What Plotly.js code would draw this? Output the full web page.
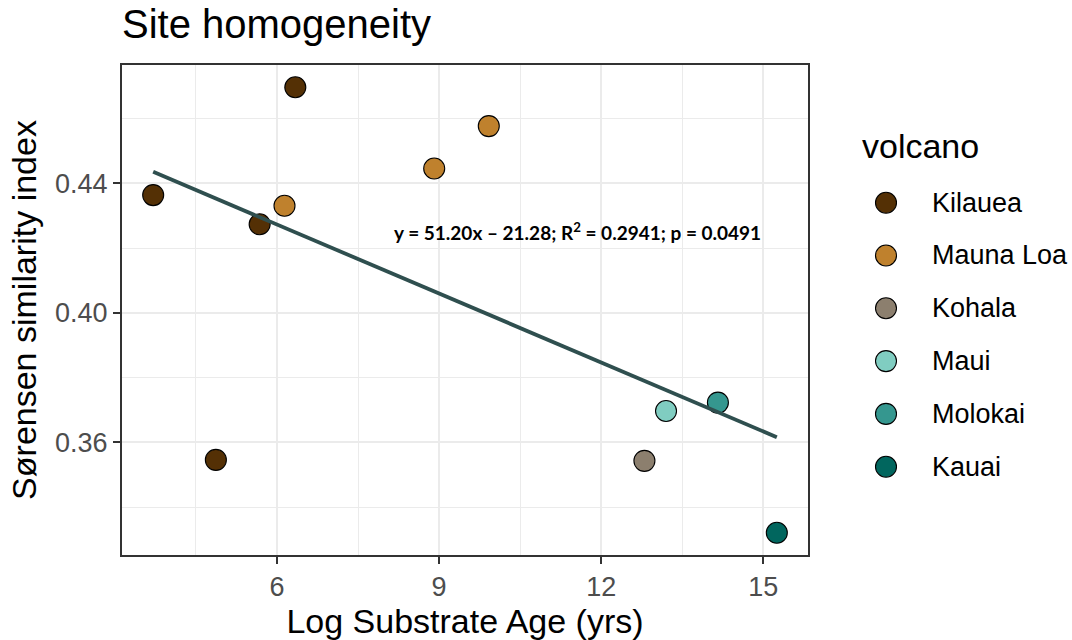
<!DOCTYPE html>
<html>
<head>
<meta charset="utf-8">
<script src="https://cdn.plot.ly/plotly-3.0.1.min.js"></script>
<style>html,body{margin:0;padding:0;background:#fff;}#chart{width:1072px;height:640px;}</style>
</head>
<body>
<div id="chart"></div>
<script>
// ---- data ----
const volcanoLevels = ["Kilauea", "Mauna Loa", "Kohala", "Maui", "Molokai", "Kauai"];
const volcanoColors = ["#543005", "#BF812D", "#8C7F6E", "#80CDC1", "#35978F", "#01665E"];
const siteVolcano = ["Kilauea", "Kilauea", "Kilauea", "Kilauea", "Mauna Loa", "Mauna Loa", "Mauna Loa", "Kohala", "Maui", "Molokai", "Kauai"];
const logAge =      [3.71, 4.87, 5.68, 6.34, 6.14, 8.91, 9.92, 12.80, 13.20, 14.16, 15.25];
const sorensen =    [0.4364, 0.3546, 0.4274, 0.4697, 0.4331, 0.4446, 0.4577, 0.3543, 0.3697, 0.3723, 0.3321];
const xTickVals = [6, 9, 12, 15];
const yTickVals = [0.36, 0.40, 0.44];
const fitLabel = "y = 51.20x \u2013 21.28; R<sup>2</sup> = 0.2941; p = 0.0491";

// ---- layout constants ----
const W = 1072, H = 640;
const panel = {left: 122, right: 808, top: 65, bottom: 555};
const FONT = "Liberation Sans, Arial, sans-serif";

// least-squares fit (as geom_smooth(method = "lm"))
const n = logAge.length;
const mx = logAge.reduce((a, b) => a + b, 0) / n;
const my = sorensen.reduce((a, b) => a + b, 0) / n;
let sxy = 0, sxx = 0;
for (let i = 0; i < n; i++) { sxy += (logAge[i] - mx) * (sorensen[i] - my); sxx += (logAge[i] - mx) ** 2; }
const slope = sxy / sxx, intercept = my - slope * mx;
const xMin = Math.min(...logAge), xMax = Math.max(...logAge);
const yMin = Math.min(...sorensen), yMax = Math.max(...sorensen);
const xPad = (xMax - xMin) * 0.05, yPad = (yMax - yMin) * 0.05;

const traces = [];
volcanoLevels.forEach((v, k) => {
  const xs = [], ys = [];
  siteVolcano.forEach((s, i) => { if (s === v) { xs.push(logAge[i]); ys.push(sorensen[i]); } });
  traces.push({
    type: "scatter", mode: "markers", x: xs, y: ys, name: v, showlegend: false,
    marker: {size: 21, color: volcanoColors[k], line: {color: "#000000", width: 1.1}},
    hoverinfo: "skip"
  });
});
traces.push({
  type: "scatter", mode: "lines", x: [xMin, xMax],
  y: [intercept + slope * xMin, intercept + slope * xMax],
  line: {color: "#2F4F4F", width: 3.8}, showlegend: false, hoverinfo: "skip"
});

// custom legend drawn on a helper axis pair in pixel units
const legX0 = 0.76 * W;
const legMarkerX = 886, legTop = 202.7, legStep = 52.8;
traces.push({
  type: "scatter", mode: "markers", xaxis: "x2", yaxis: "y2",
  x: volcanoLevels.map(() => legMarkerX),
  y: volcanoLevels.map((v, k) => legTop + k * legStep),
  marker: {size: 21, color: volcanoColors, line: {color: "#000000", width: 1.1}},
  showlegend: false, hoverinfo: "skip"
});

const annotations = [
  {xref: "x", yref: "y", x: 11.553, y: 0.4253, text: "<b>" + fitLabel + "</b>", showarrow: false,
   xanchor: "center", yanchor: "middle", font: {family: "Lato, sans-serif", size: 19, color: "#000000"}},
  {xref: "paper", yref: "paper", x: 860 / W, y: 1 - 146 / H, text: "volcano", showarrow: false,
   xanchor: "left", yanchor: "middle", font: {family: FONT, size: 34, color: "#000000"}}
];
volcanoLevels.forEach((v, k) => {
  annotations.push({xref: "paper", yref: "paper", x: 930 / W, y: 1 - (legTop + k * legStep) / H,
    text: v, showarrow: false, xanchor: "left", yanchor: "middle",
    font: {family: FONT, size: 27, color: "#000000"}});
});

const axisCommon = {
  showline: true, mirror: true, linecolor: "#333333", linewidth: 2,
  ticks: "outside", ticklen: 7, tickwidth: 2, tickcolor: "#333333",
  showgrid: true, gridcolor: "#EBEBEB", gridwidth: 2, zeroline: false,
  tickfont: {family: FONT, size: 27, color: "#4D4D4D"}
};

const layout = {
  width: W, height: H,
  margin: {l: 0, r: 0, t: 0, b: 0},
  paper_bgcolor: "#FFFFFF", plot_bgcolor: "#FFFFFF",
  font: {family: FONT},
  title: {text: "Site homogeneity", font: {family: FONT, size: 40, color: "#000000"},
          x: panel.left / W, xanchor: "left", xref: "container", y: 1 - 24.3 / H, yref: "container", yanchor: "middle"},
  xaxis: Object.assign({}, axisCommon, {
    domain: [panel.left / W, panel.right / W],
    range: [xMin - xPad, xMax + xPad], autorange: false,
    tickvals: xTickVals, ticktext: xTickVals.map(String),
    minor: {dtick: 1.5, tick0: 0, showgrid: true, gridcolor: "#EBEBEB", gridwidth: 1, ticks: ""},
    title: {text: "Log Substrate Age (yrs)", font: {family: FONT, size: 34, color: "#000000"}, standoff: 6}
  }),
  yaxis: Object.assign({}, axisCommon, {
    domain: [1 - panel.bottom / H, 1 - panel.top / H],
    range: [yMin - yPad, yMax + yPad], autorange: false,
    tickvals: yTickVals, ticktext: yTickVals.map(v => v.toFixed(2)),
    minor: {dtick: 0.02, tick0: 0, showgrid: true, gridcolor: "#EBEBEB", gridwidth: 1, ticks: ""},
    title: {text: "Sørensen similarity index", font: {family: FONT, size: 34, color: "#000000"}, standoff: 8}
  }),
  xaxis2: {domain: [0.76, 1], range: [legX0, W], autorange: false, visible: false, fixedrange: true},
  yaxis2: {domain: [0, 1], range: [H, 0], autorange: false, visible: false, fixedrange: true, anchor: "x2"},
  annotations: annotations,
  showlegend: false
};
layout.xaxis2.anchor = "y2";

Plotly.newPlot("chart", traces, layout, {displayModeBar: false, staticPlot: true});
</script>
</body>
</html>
